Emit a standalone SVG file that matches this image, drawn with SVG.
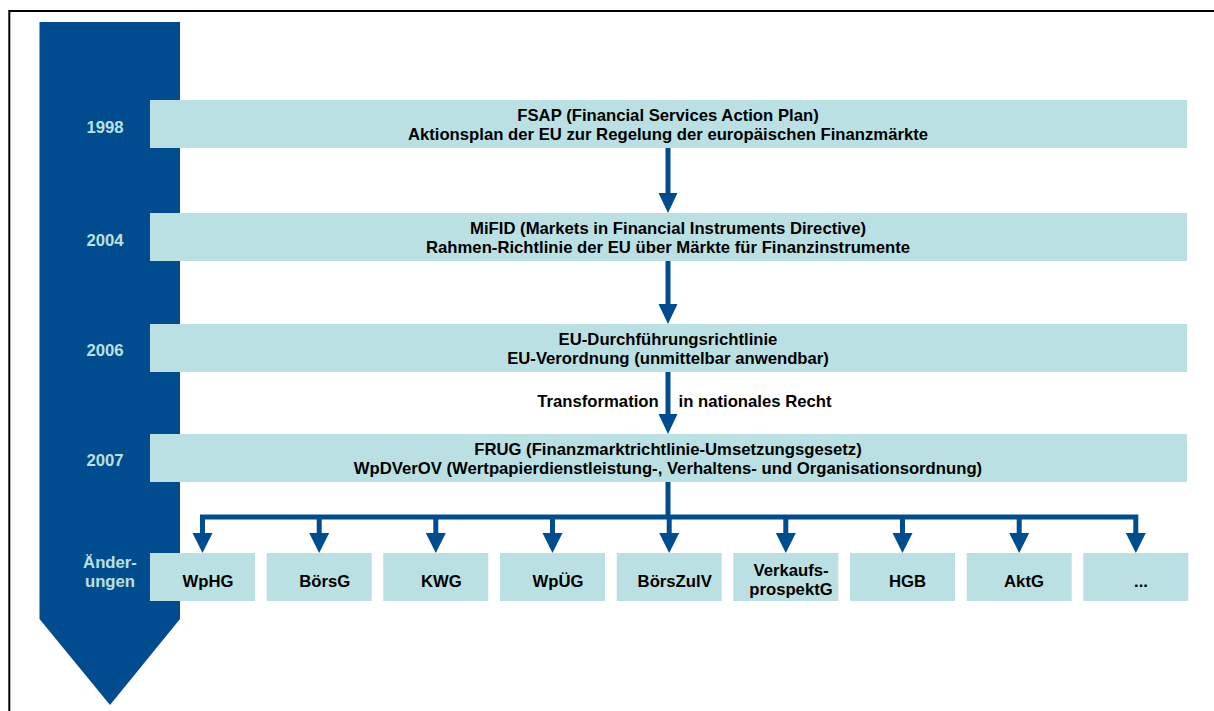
<svg xmlns="http://www.w3.org/2000/svg" width="1214" height="711" viewBox="0 0 1214 711">
<defs>
<style>
.box{fill:#bbe0e3}
.t{font-family:"Liberation Sans",Arial,sans-serif;font-weight:bold;font-size:16.7px;fill:#000;text-anchor:middle}
.y{font-family:"Liberation Sans",Arial,sans-serif;font-weight:bold;font-size:16.7px;fill:#bbe0e3;text-anchor:middle}
.ln{stroke:#004c8f;stroke-width:5;fill:none}
.ah{fill:#004c8f}
</style>
</defs>
<rect x="0" y="0" width="1214" height="711" fill="#fff"/>
<path d="M9.3 711 V11 H1214" fill="none" stroke="#000" stroke-width="2"/>
<g id="timeline">
<path d="M39.5 22 H180 V619 L110 705 L39.5 619 Z" fill="#004c8f"/>
<text class="y" x="105" y="133">1998</text>
<text class="y" x="105" y="246">2004</text>
<text class="y" x="105" y="356">2006</text>
<text class="y" x="105" y="465.5">2007</text>
<text class="y" x="110" y="568">Änder-</text>
<text class="y" x="110" y="587">ungen</text>
</g>
<g id="fsap">
<rect class="box" x="150" y="100" width="1037" height="48"/>
<text class="t" x="668" y="120.5">FSAP (Financial Services Action Plan)</text>
<text class="t" x="668" y="140">Aktionsplan der EU zur Regelung der europäischen Finanzmärkte</text>
</g>
<g id="mifid">
<rect class="box" x="150" y="213" width="1037" height="48"/>
<text class="t" x="668" y="233.5">MiFID (Markets in Financial Instruments Directive)</text>
<text class="t" x="668" y="253">Rahmen-Richtlinie der EU über Märkte für Finanzinstrumente</text>
</g>
<g id="eu">
<rect class="box" x="150" y="324" width="1037" height="48"/>
<text class="t" x="668" y="344.5">EU-Durchführungsrichtlinie</text>
<text class="t" x="668" y="364">EU-Verordnung (unmittelbar anwendbar)</text>
</g>
<g id="frug">
<rect class="box" x="150" y="434" width="1037" height="48"/>
<text class="t" x="668" y="455">FRUG (Finanzmarktrichtlinie-Umsetzungsgesetz)</text>
<text class="t" x="668" y="473.5">WpDVerOV (Wertpapierdienstleistung-, Verhaltens- und Organisationsordnung)</text>
</g>
<g id="wphg"><rect class="box" x="150" y="553" width="105" height="48"/><text class="t" x="208" y="586.5">WpHG</text></g>
<g id="boersg"><rect class="box" x="266.7" y="553" width="105" height="48"/><text class="t" x="324.7" y="586.5">BörsG</text></g>
<g id="kwg"><rect class="box" x="383.3" y="553" width="105" height="48"/><text class="t" x="441.3" y="586.5">KWG</text></g>
<g id="wpueg"><rect class="box" x="500" y="553" width="105" height="48"/><text class="t" x="558" y="586.5">WpÜG</text></g>
<g id="boerszulv"><rect class="box" x="616.7" y="553" width="105" height="48"/><text class="t" x="674.7" y="586.5">BörsZulV</text></g>
<g id="verkaufsprospektg"><rect class="box" x="733.3" y="553" width="105" height="48"/><text class="t" x="791" y="576">Verkaufs-</text><text class="t" x="791" y="595">prospektG</text></g>
<g id="hgb"><rect class="box" x="850" y="553" width="105" height="48"/><text class="t" x="907.5" y="586.5">HGB</text></g>
<g id="aktg"><rect class="box" x="966.7" y="553" width="105" height="48"/><text class="t" x="1024" y="586.5">AktG</text></g>
<g id="more"><rect class="box" x="1083.3" y="553" width="105" height="48"/><text class="t" x="1141" y="586.5">...</text></g>
<g id="connectors">
<path class="ln" d="M668 148 V195"/>
<path class="ah" d="M658.5 193 H677.5 L668 213 Z"/>
<path class="ln" d="M668 261 V306"/>
<path class="ah" d="M658.5 304 H677.5 L668 324 Z"/>
<path class="ln" d="M668 372 V416"/>
<path class="ah" d="M658.5 414 H677.5 L668 434 Z"/>
<text class="t" x="598" y="406.5">Transformation</text>
<text class="t" x="755" y="406.5">in nationales Recht</text>
<path class="ln" d="M668 482 V517"/>
<path class="ln" d="M202.5 535 V517 H1135.8 V535"/>
<path class="ln" d="M319.2 517 V535 M435.8 517 V535 M552.5 517 V535 M669.2 517 V535 M785.8 517 V535 M902.5 517 V535 M1019.2 517 V535"/>
<g class="ah">
<path d="M192.5 533 H212.5 L202.5 553 Z"/>
<path d="M309.2 533 H329.2 L319.2 553 Z"/>
<path d="M425.8 533 H445.8 L435.8 553 Z"/>
<path d="M542.5 533 H562.5 L552.5 553 Z"/>
<path d="M659.2 533 H679.2 L669.2 553 Z"/>
<path d="M775.8 533 H795.8 L785.8 553 Z"/>
<path d="M892.5 533 H912.5 L902.5 553 Z"/>
<path d="M1009.2 533 H1029.2 L1019.2 553 Z"/>
<path d="M1125.8 533 H1145.8 L1135.8 553 Z"/>
</g>
</g>
</svg>
